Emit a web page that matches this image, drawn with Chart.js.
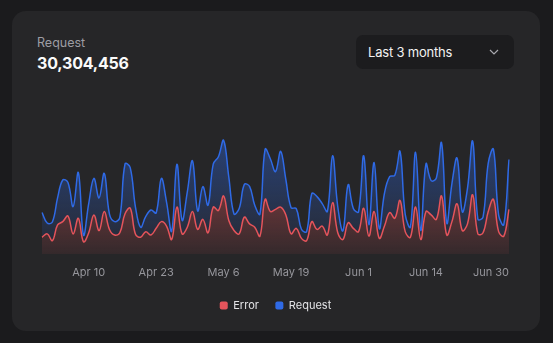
<!DOCTYPE html>
<html>
<head>
<meta charset="utf-8">
<script src="https://cdn.jsdelivr.net/npm/chart.js@4.4.1/dist/chart.umd.min.js"></script>
<style>
  html, body { margin: 0; padding: 0; }
  body { width: 553px; height: 343px; background: #1b1b1d; font-family: Inter, sans-serif; position: relative; overflow: hidden; }
  .card { position: absolute; left: 12px; top: 11px; width: 528px; height: 320px; background: #262628; border-radius: 14px; }
  .title { position: absolute; left: 25px; top: 24px; font-size: 12.5px; line-height: 16px; color: #9d9da3; }
  .total { position: absolute; left: 25px; top: 42px; font-size: 16px; letter-spacing: -0.2px; line-height: 20px; font-weight: 700; color: #fafafa; }
  .range { position: absolute; left: 344px; top: 24px; width: 158px; height: 34px; background: #1c1c1e; border-radius: 7px; color: #f2f2f2; font-size: 13px; letter-spacing: -0.2px; line-height: 34px; }
  .range span { position: absolute; left: 12px; }
  .range svg { position: absolute; left: 133px; top: 14px; }
  .plot { position: absolute; left: 0; top: 89px; width: 528px; height: 231px; }
</style>
</head>
<body>
<div class="card">
  <div class="title">Request</div>
  <div class="total">30,304,456</div>
  <div class="range">
    <span>Last 3 months</span>
    <svg width="10" height="6" viewBox="0 0 10 6"><polyline points="1,1 5,5 9,1" fill="none" stroke="#a8a8ae" stroke-width="1.2"/></svg>
  </div>
  <div class="plot"><canvas id="traffic"></canvas></div>
</div>
<script>
const dates = [
  'Apr 1','Apr 2','Apr 3','Apr 4','Apr 5','Apr 6','Apr 7','Apr 8','Apr 9','Apr 10',
  'Apr 11','Apr 12','Apr 13','Apr 14','Apr 15','Apr 16','Apr 17','Apr 18','Apr 19','Apr 20',
  'Apr 21','Apr 22','Apr 23','Apr 24','Apr 25','Apr 26','Apr 27','Apr 28','Apr 29','Apr 30',
  'May 1','May 2','May 3','May 4','May 5','May 6','May 7','May 8','May 9','May 10',
  'May 11','May 12','May 13','May 14','May 15','May 16','May 17','May 18','May 19','May 20',
  'May 21','May 22','May 23','May 24','May 25','May 26','May 27','May 28','May 29','May 30','May 31',
  'Jun 1','Jun 2','Jun 3','Jun 4','Jun 5','Jun 6','Jun 7','Jun 8','Jun 9','Jun 10',
  'Jun 11','Jun 12','Jun 13','Jun 14','Jun 15','Jun 16','Jun 17','Jun 18','Jun 19','Jun 20',
  'Jun 21','Jun 22','Jun 23','Jun 24','Jun 25','Jun 26','Jun 27','Jun 28','Jun 29','Jun 30'
];

const errors = [
  150, 180, 120, 260, 290, 340, 180, 320, 110, 190, 350, 210, 380, 220, 170, 190, 360, 410, 180, 150,
  200, 170, 230, 290, 250, 130, 420, 180, 240, 380,
  220, 310, 190, 420, 390, 520, 300, 210, 180, 330, 270, 240, 160, 490, 380, 400, 420, 350, 180, 230,
  140, 120, 290, 220, 250, 170, 460, 190, 130, 280, 230,
  200, 410, 160, 380, 140, 250, 370, 320, 480, 200, 150, 420, 130, 380, 350, 310, 520, 170, 290, 450,
  210, 270, 530, 180, 190, 380, 490, 200, 160, 400
];

const requests = [
  222, 97, 167, 242, 373, 301, 245, 409, 59, 261, 327, 292, 342, 137, 120, 138, 446, 364, 243, 89,
  137, 224, 138, 387, 215, 75, 383, 122, 315, 454,
  165, 293, 247, 385, 481, 498, 388, 149, 227, 293, 335, 197, 197, 448, 473, 338, 499, 315, 235, 177,
  82, 81, 252, 294, 201, 213, 420, 233, 78, 340, 178,
  178, 470, 103, 439, 88, 294, 323, 385, 438, 155, 92, 492, 81, 426, 307, 371, 475, 107, 341, 408,
  169, 317, 480, 132, 141, 434, 448, 149, 103, 446
];

const tickDates = ['Apr 10', 'Apr 23', 'May 6', 'May 19', 'Jun 1', 'Jun 14', 'Jun 30'];

const RED = '#e5545b';
const BLUE = '#2f6ae6';

// vertical fade from the highest point of a series down to the baseline
function fade(context, rgb, topValue, a1, a2) {
  const chart = context.chart;
  const area = chart.chartArea;
  if (!area) return null;
  const top = chart.scales.y.getPixelForValue(topValue);
  const g = chart.ctx.createLinearGradient(0, top, 0, area.bottom);
  g.addColorStop(0, `rgba(${rgb},${a1})`);
  g.addColorStop(1, `rgba(${rgb},${a2})`);
  return g;
}

const stackedMax = Math.max(...errors.map((e, i) => e + requests[i]));

new Chart(document.getElementById('traffic'), {
  type: 'line',
  data: {
    labels: dates,
    datasets: [
      {
        label: 'Error',
        data: errors,
        borderColor: RED,
        borderWidth: 1.5,
        fill: 'origin',
        backgroundColor: ctx => fade(ctx, '229,84,91', Math.max(...errors), 0.36, 0.08)
      },
      {
        label: 'Request',
        data: requests,
        borderColor: BLUE,
        borderWidth: 1.5,
        fill: '-1',
        backgroundColor: ctx => fade(ctx, '47,106,230', stackedMax, 0.4, 0.06)
      }
    ]
  },
  options: {
    responsive: true,
    maintainAspectRatio: false,
    animation: false,
    layout: { padding: { left: 30, right: 31, top: 20, bottom: 10 } },
    elements: {
      point: { radius: 0 },
      line: { tension: 0.4 }
    },
    scales: {
      x: {
        grid: { display: false, drawTicks: false },
        border: { display: false },
        ticks: {
          autoSkip: false,
          maxRotation: 0,
          align: 'inner',
          padding: 13,
          color: '#96969c',
          font: { family: 'Inter', size: 11, lineHeight: '12px' },
          callback: (v, i) => tickDates.includes(dates[i]) ? dates[i] : ''
        },
        // keep the date row compact so the legend sits close under it
        afterFit: scale => { scale.height = 29.5; }
      },
      y: {
        display: false,
        stacked: true,
        min: 0,
        max: 1200
      }
    },
    plugins: {
      tooltip: { enabled: false },
      legend: {
        position: 'bottom',
        labels: {
          boxWidth: 8,
          boxHeight: 8,
          padding: 16.5,
          color: '#e4e4e7',
          font: { family: 'Inter', size: 11 },
          useBorderRadius: true,
          borderRadius: 2,
          generateLabels: chart => chart.data.datasets.map((ds, i) => ({
            text: ds.label,
            fillStyle: ds.borderColor,
            strokeStyle: ds.borderColor,
            lineWidth: 0,
            borderRadius: 2,
            fontColor: '#e4e4e7',
            datasetIndex: i,
            hidden: !chart.isDatasetVisible(i)
          }))
        }
      }
    }
  }
});
</script>
</body>
</html>
